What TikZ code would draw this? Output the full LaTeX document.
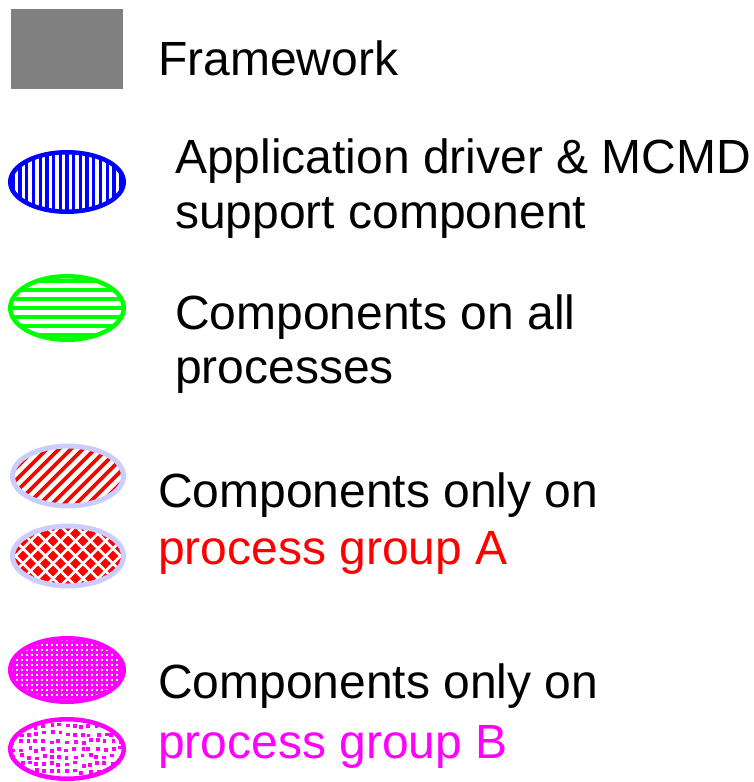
\documentclass[tikz,border=0pt]{standalone}
\usepackage{fontspec}
\setmainfont{Liberation Sans}
\usetikzlibrary{shapes.geometric}
\definecolor{fwgray}{HTML}{808080}
\definecolor{lav}{HTML}{CCCCFF}
\definecolor{mag}{HTML}{FF00FF}
\definecolor{grn}{HTML}{00FF00}
\definecolor{blu}{HTML}{0000FF}
\definecolor{rd}{HTML}{FF0000}
\tikzset{
  lbl/.style={anchor=base west, inner sep=0pt, font=\fontsize{48}{57}\selectfont},
  leg/.style={ellipse, inner sep=0pt, outer sep=0pt, minimum width=113.5pt},
}
\begin{document}
\begin{tikzpicture}[x=1pt,y=-1pt]
\useasboundingbox (0,0) rectangle (753,782);
% framework box
\node[fill=fwgray, inner sep=0pt, minimum width=112pt, minimum height=80pt] (fwbox) at (67,49) {};
\node[lbl] (fwtext) at (158,75) {Framework};

% blue vertical stripes
\node[leg, draw=blu, line width=4.5pt, minimum height=59.5pt,
  path picture={\begin{scope}[shift={(path picture bounding box.center)}]
    \foreach \i in {-9,...,9} \draw[blu, line width=3.3pt] (\i*6.7,-40) -- (\i*6.7,40);
  \end{scope}}] (drv) at (67,182) {};
\node[lbl] (drvt1) at (175,173) {Application driver \& MCMD};
\node[lbl] (drvt2) at (175,228) {support component};

% green horizontal stripes
\node[leg, draw=grn, line width=4.5pt, minimum height=63.5pt,
  path picture={\begin{scope}[shift={(path picture bounding box.center)}]
    \foreach \j in {-4,...,4} \draw[grn, line width=4.6pt] (-70,\j*9) -- (70,\j*9);
  \end{scope}}] (all) at (67,308) {};
\node[lbl] (allt1) at (175,329) {Components on all};
\node[lbl] (allt2) at (175,383) {processes};

% red diagonal
\node[leg, draw=lav, line width=5pt, minimum width=111pt, minimum height=60pt,
  path picture={\begin{scope}[shift={(path picture bounding box.center)}]
    \foreach \i in {-12,...,12} \draw[rd, line width=3.8pt] (\i*12-60,60) -- (\i*12+60,-60);
  \end{scope}}] (ga1) at (68,476) {};
% red checkerboard diamonds
\node[leg, draw=lav, line width=5pt, minimum width=111pt, minimum height=60pt,
  path picture={\begin{scope}[shift={(path picture bounding box.center)}]
    \foreach \i in {-5,...,5} \foreach \j in {-3,...,3} {
      \fill[rd] (\i*15-5.3,\j*15) -- (\i*15,\j*15-5.3) -- (\i*15+5.3,\j*15) -- (\i*15,\j*15+5.3) -- cycle;
      \fill[rd] (\i*15+7.5-5.3,\j*15+7.5) -- (\i*15+7.5,\j*15+7.5-5.3) -- (\i*15+7.5+5.3,\j*15+7.5) -- (\i*15+7.5,\j*15+7.5+5.3) -- cycle;
    }
  \end{scope}}] (ga2) at (68,556) {};
\node[lbl] (gat1) at (158,507) {Components only on};
\node[lbl, text=rd] (gat2) at (158,564) {process group A};

% magenta with white dots
\node[leg, draw=mag, fill=mag, line width=4.5pt, minimum height=63.5pt,
  path picture={\begin{scope}[shift={(path picture bounding box.center)}]
    \foreach \i in {-12,...,12} \foreach \j in {-7,...,7}
      \fill[white] (\i*5-1,\j*5-1) rectangle (\i*5+1,\j*5+1);
  \end{scope}}] (gb1) at (67,670) {};
% white with magenta confetti
\pgfmathsetseed{7}
\node[leg, draw=mag, line width=4.5pt, minimum height=59.5pt,
  path picture={\begin{scope}[shift={(path picture bounding box.center)}]
    \foreach \i in {-8,...,8} \foreach \j in {-4,...,4} {
      \pgfmathsetmacro{\dx}{\i*7.6+1.8*rand}
      \pgfmathsetmacro{\dy}{\j*7.6+1.8*rand}
      \fill[mag] (\dx-1.9,\dy-1.9) rectangle (\dx+1.9,\dy+1.9);
    }
  \end{scope}}] (gb2) at (67,749) {};
\node[lbl] (gbt1) at (158,698) {Components only on};
\node[lbl, text=mag] (gbt2) at (158,758) {process group B};
\end{tikzpicture}
\end{document}
